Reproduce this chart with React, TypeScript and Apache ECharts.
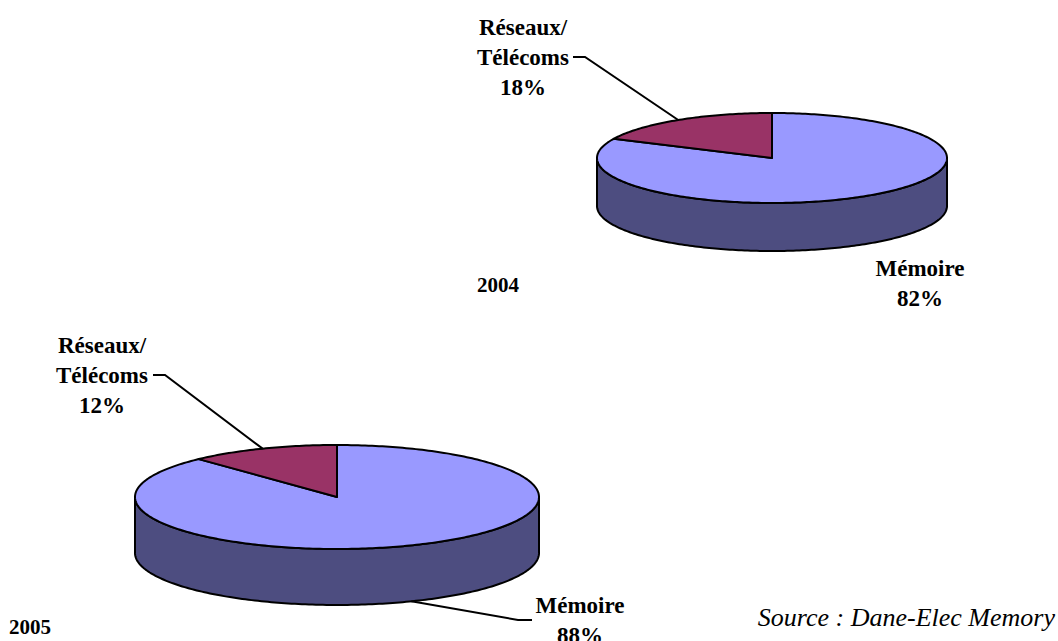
import React, { useEffect, useRef } from "react";
import * as echarts from "echarts";

// ---- data ----
const CATEGORIES = ["Mémoire", "Réseaux/\nTélécoms"];
const YEARS = ["2004", "2005"];
const VALUES_2004 = [82, 18];
const VALUES_2005 = [88, 12];
const SOURCE = "Source : Dane-Elec Memory";

// ---- styles ----
const TOP_COLORS = ["#9999FF", "#993366"];
const WALL_COLORS = ["#4D4D80", "#4D1A33"];
const SERIF = '"Liberation Serif", "Times New Roman", serif';

// ---- layout (pixel geometry of each 3D pie) ----
type LabelLayout = { x: number; y: number; leader: number[][] | null; anchor: "top" | "bottom" };
const PIES: {
  values: number[];
  cx: number; cy: number; rx: number; ry: number; depth: number;
  year: [number, number];
  labels: LabelLayout[];
}[] = [
  {
    values: VALUES_2004,
    cx: 772, cy: 158, rx: 175, ry: 45, depth: 48,
    year: [498, 285],
    labels: [
      { x: 920, y: 283, leader: null, anchor: "bottom" },
      { x: 523, y: 57, leader: [[573, 57], [585, 57]], anchor: "top" },
    ],
  },
  {
    values: VALUES_2005,
    cx: 337, cy: 497, rx: 202, ry: 52, depth: 56,
    year: [30, 627],
    labels: [
      { x: 580, y: 620, leader: [[532, 620], [518, 620]], anchor: "bottom" },
      { x: 102, y: 375, leader: [[153, 375], [165, 375]], anchor: "top" },
    ],
  },
];

function pt(p: any, deg: number, dy: number) {
  const t = (deg * Math.PI) / 180;
  return [p.cx + p.rx * Math.sin(t), p.cy - p.ry * Math.cos(t) + dy];
}
function arc(p: any, a: number, b: number, dy: number) {
  const n = Math.max(2, Math.ceil(Math.abs(b - a)));
  const out: number[][] = [];
  for (let k = 0; k <= n; k++) out.push(pt(p, a + ((b - a) * k) / n, dy));
  return out;
}

function makeRenderItem(pieIdx: number) {
  return (params: any, api: any) => {
    const pie = PIES[pieIdx];
    const i = params.dataIndex;
    const v = api.value(0);
    const total = pie.values.reduce((s, x) => s + x, 0);
    const before = pie.values.slice(0, i).reduce((s, x) => s + x, 0);
    const start = (before / total) * 360;
    const end = start + (v / total) * 360;
    const children: any[] = [];
    const wa = Math.max(start, 90);
    const wb = Math.min(end, 270);
    if (wb > wa) {
      const top = arc(pie, wa, wb, 0);
      const bot = arc(pie, wb, wa, pie.depth);
      children.push({
        type: "polygon",
        z2: 1,
        shape: { points: top.concat(bot) },
        style: { fill: WALL_COLORS[i], stroke: "#000", lineWidth: 2, lineJoin: "round" },
      });
    }
    children.push({
      type: "polygon",
      z2: 2,
      shape: { points: [[pie.cx, pie.cy]].concat(arc(pie, start, end, 0)) },
      style: { fill: TOP_COLORS[i], stroke: "#000", lineWidth: 2, lineJoin: "round" },
    });
    const lab = pie.labels[i];
    if (lab.leader) {
      const mid = (start + end) / 2;
      const anchor = pt(pie, mid, lab.anchor === "bottom" ? pie.depth : 0);
      children.push({
        type: "polyline",
        z2: 3,
        shape: { points: [lab.leader[0], lab.leader[1], anchor] },
        style: { stroke: "#000", lineWidth: 2, fill: null },
      });
    }
    children.push({
      type: "text",
      z2: 4,
      style: {
        text: `${CATEGORIES[i]}\n${v}%`,
        x: lab.x,
        y: lab.y,
        align: "center",
        verticalAlign: "middle",
        lineHeight: 30,
        fontFamily: SERIF,
        fontWeight: "bold",
        fontSize: 23,
        fill: "#000",
      },
    });
    return { type: "group", children };
  };
}

export default function App() {
  const ref = useRef<HTMLDivElement>(null);
  useEffect(() => {
    if (!ref.current) return;
    const chart = echarts.init(ref.current, null, { renderer: "svg" });
    chart.setOption({
      animation: false,
      backgroundColor: "#ffffff",
      series: PIES.map((p, idx) => ({
        type: "custom",
        name: YEARS[idx],
        coordinateSystem: "none",
        silent: true,
        renderItem: makeRenderItem(idx),
        data: p.values.map((v, i) => ({ name: CATEGORIES[i], value: [v, i] })),
      })),
      graphic: [
        ...YEARS.map((y, idx) => ({
          type: "text",
          x: PIES[idx].year[0],
          y: PIES[idx].year[1],
          style: {
            text: y,
            align: "center",
            verticalAlign: "middle",
            fontFamily: SERIF,
            fontWeight: "bold",
            fontSize: 21,
            fill: "#000",
          },
        })),
        {
          type: "text",
          x: 1055,
          y: 617,
          style: {
            text: SOURCE,
            align: "right",
            verticalAlign: "middle",
            fontFamily: SERIF,
            fontStyle: "italic",
            fontSize: 26,
            fill: "#000",
          },
        },
      ],
    });
    return () => chart.dispose();
  }, []);
  return (
    <div
      ref={ref}
      style={{ position: "fixed", left: 0, top: 0, width: 1058, height: 641, background: "#fff" }}
    />
  );
}
